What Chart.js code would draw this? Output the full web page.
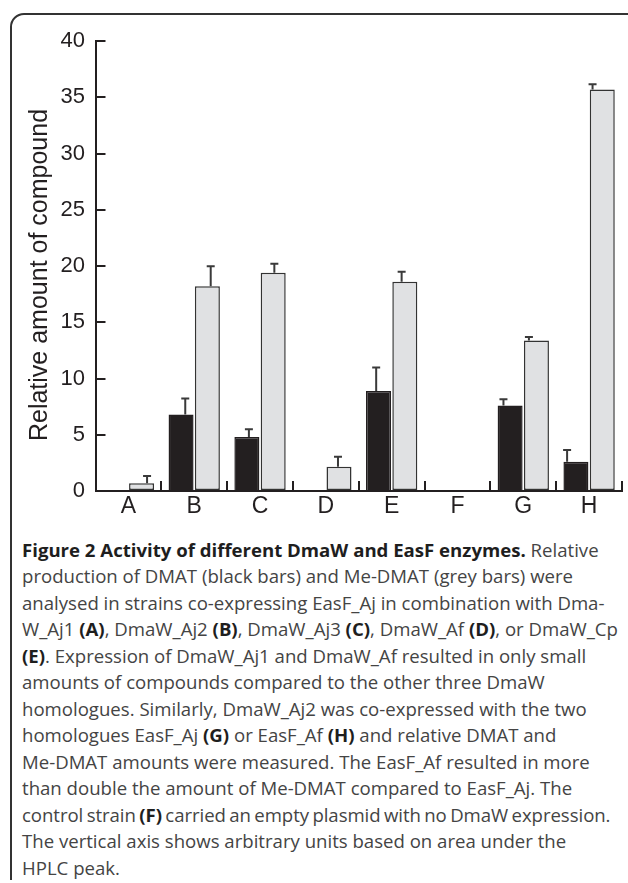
<!DOCTYPE html>
<html>
<head>
<meta charset="utf-8">
<script src="https://cdn.jsdelivr.net/npm/chart.js@4.4.1/dist/chart.umd.min.js"></script>
<style>
html,body{margin:0;padding:0;background:#fff;overflow:hidden;width:628px;height:883px;}
#frame{position:absolute;left:10px;top:13px;width:640px;height:900px;border:2px solid #333;border-radius:14px;box-sizing:border-box;}
#cut{position:absolute;left:0;top:880px;width:628px;height:10px;background:#fff;}
#c{position:absolute;left:0;top:0;}
#cap{position:absolute;left:22px;top:536.5px;font-family:"Open Sans",Lato,sans-serif;font-size:18.6px;line-height:26.5px;color:#444;white-space:nowrap;}
#cap b{color:#1e1e1e;font-weight:700;}
#cap .tight{word-spacing:-1.4px;letter-spacing:-0.05px;}
</style>
</head>
<body>
<div id="frame"></div>
<div id="cut"></div>
<canvas id="c" width="628" height="530"></canvas>
<div id="cap">
<div><b>Figure 2 Activity of different DmaW and EasF enzymes.</b> Relative</div>
<div>production of DMAT (black bars) and Me-DMAT (grey bars) were</div>
<div>analysed in strains co-expressing EasF_Aj in combination with Dma-</div>
<div>W_Aj1 <b>(A)</b>, DmaW_Aj2 <b>(B)</b>, DmaW_Aj3 <b>(C)</b>, DmaW_Af <b>(D)</b>, or DmaW_Cp</div>
<div><b>(E)</b>. Expression of DmaW_Aj1 and DmaW_Af resulted in only small</div>
<div>amounts of compounds compared to the other three DmaW</div>
<div>homologues. Similarly, DmaW_Aj2 was co-expressed with the two</div>
<div>homologues EasF_Aj <b>(G)</b> or EasF_Af <b>(H)</b> and relative DMAT and</div>
<div>Me-DMAT amounts were measured. The EasF_Af resulted in more</div>
<div>than double the amount of Me-DMAT compared to EasF_Aj. The</div>
<div class="tight">control strain <b>(F)</b> carried an empty plasmid with no DmaW expression.</div>
<div>The vertical axis shows arbitrary units based on area under the</div>
<div>HPLC peak.</div>
</div>
<script>
// ---- data ----
const categories = ['A', 'B', 'C', 'D', 'E', 'F', 'G', 'H'];
const dmatValues = [0, 6.8, 4.8, 0, 8.9, 0, 7.6, 2.6];
const dmatErrors = [0, 1.42, 0.68, 0, 2.08, 0, 0.56, 1.04];
const meDmatValues = [0.68, 18.2, 19.4, 2.16, 18.6, 0, 13.38, 35.7];
const meDmatErrors = [0.65, 1.78, 0.8, 0.89, 0.89, 0, 0.32, 0.45];
const yTickValues = [0, 5, 10, 15, 20, 25, 30, 35, 40];
const yTitle = 'Relative amount of compound';

const INK = '#231f20';

// the original's error-bar layer drifts slightly left across the plot
function errorSkew(x) { return 4.2 - 0.033 * (x - 181); }

const errorBarsPlugin = {
  id: 'errorBars',
  afterDatasetsDraw(chart) {
    const ctx = chart.ctx;
    const ys = chart.scales.y;
    chart.data.datasets.forEach((ds, di) => {
      const meta = chart.getDatasetMeta(di);
      meta.data.forEach((bar, i) => {
        const e = ds.errors[i];
        if (!e) return;
        const v = ds.data[i];
        const x = bar.x + errorSkew(bar.x);
        const y0 = ys.getPixelForValue(v);
        const y1 = ys.getPixelForValue(v + e);
        ctx.save();
        ctx.strokeStyle = '#3a3a3a';
        ctx.lineWidth = 2;
        ctx.beginPath();
        ctx.moveTo(x, y0);
        ctx.lineTo(x, y1);
        ctx.moveTo(x - 4, y1);
        ctx.lineTo(x + 4, y1);
        ctx.stroke();
        ctx.restore();
      });
    });
  }
};

const yTitlePlugin = {
  id: 'yTitle',
  afterDraw(chart) {
    const ctx = chart.ctx;
    const a = chart.chartArea;
    ctx.save();
    ctx.translate(a.left - 55.5, (a.top + a.bottom) / 2 + 9);
    ctx.rotate(-Math.PI / 2);
    ctx.font = '25px "Liberation Sans", Arial, sans-serif';
    ctx.fillStyle = INK;
    ctx.textAlign = 'center';
    ctx.textBaseline = 'middle';
    ctx.fillText(yTitle, 0, 0);
    ctx.restore();
  }
};

new Chart(document.getElementById('c'), {
  type: 'bar',
  data: {
    labels: categories,
    datasets: [
      {
        label: 'DMAT',
        data: dmatValues,
        errors: dmatErrors,
        backgroundColor: INK,
        borderColor: INK,
        borderWidth: 1.5,
        categoryPercentage: 0.8,
        barPercentage: 0.95
      },
      {
        label: 'Me-DMAT',
        data: meDmatValues,
        errors: meDmatErrors,
        backgroundColor: '#e0e1e3',
        borderColor: '#333333',
        borderWidth: 1.5,
        borderSkipped: false,
        categoryPercentage: 0.8,
        barPercentage: 0.95
      }
    ]
  },
  options: {
    responsive: false,
    animation: false,
    layout: { padding: { top: 41, right: 6, left: 0, bottom: 0 } },
    plugins: { legend: { display: false }, tooltip: { enabled: false } },
    scales: {
      x: {
        grid: { display: true, drawOnChartArea: false, offset: true, tickLength: -10, color: INK, lineWidth: 2 },
        border: { display: true, color: INK, width: 2 },
        ticks: { font: { family: '"Liberation Sans", Arial, sans-serif', size: 23 }, color: INK, padding: 12 },
        afterFit(s) { s.height = 39; }
      },
      y: {
        min: 0,
        max: 40,
        afterBuildTicks(s) { s.ticks = yTickValues.map(v => ({ value: v })); },
        grid: { display: true, drawOnChartArea: false, tickLength: -10, color: INK, lineWidth: 2 },
        border: { display: true, color: INK, width: 2 },
        ticks: { font: { family: '"Liberation Sans", Arial, sans-serif', size: 22 }, color: INK, padding: 20.5 },
        afterFit(s) { s.width = 95.5; }
      }
    }
  },
  plugins: [errorBarsPlugin, yTitlePlugin]
});
</script>
</body>
</html>
